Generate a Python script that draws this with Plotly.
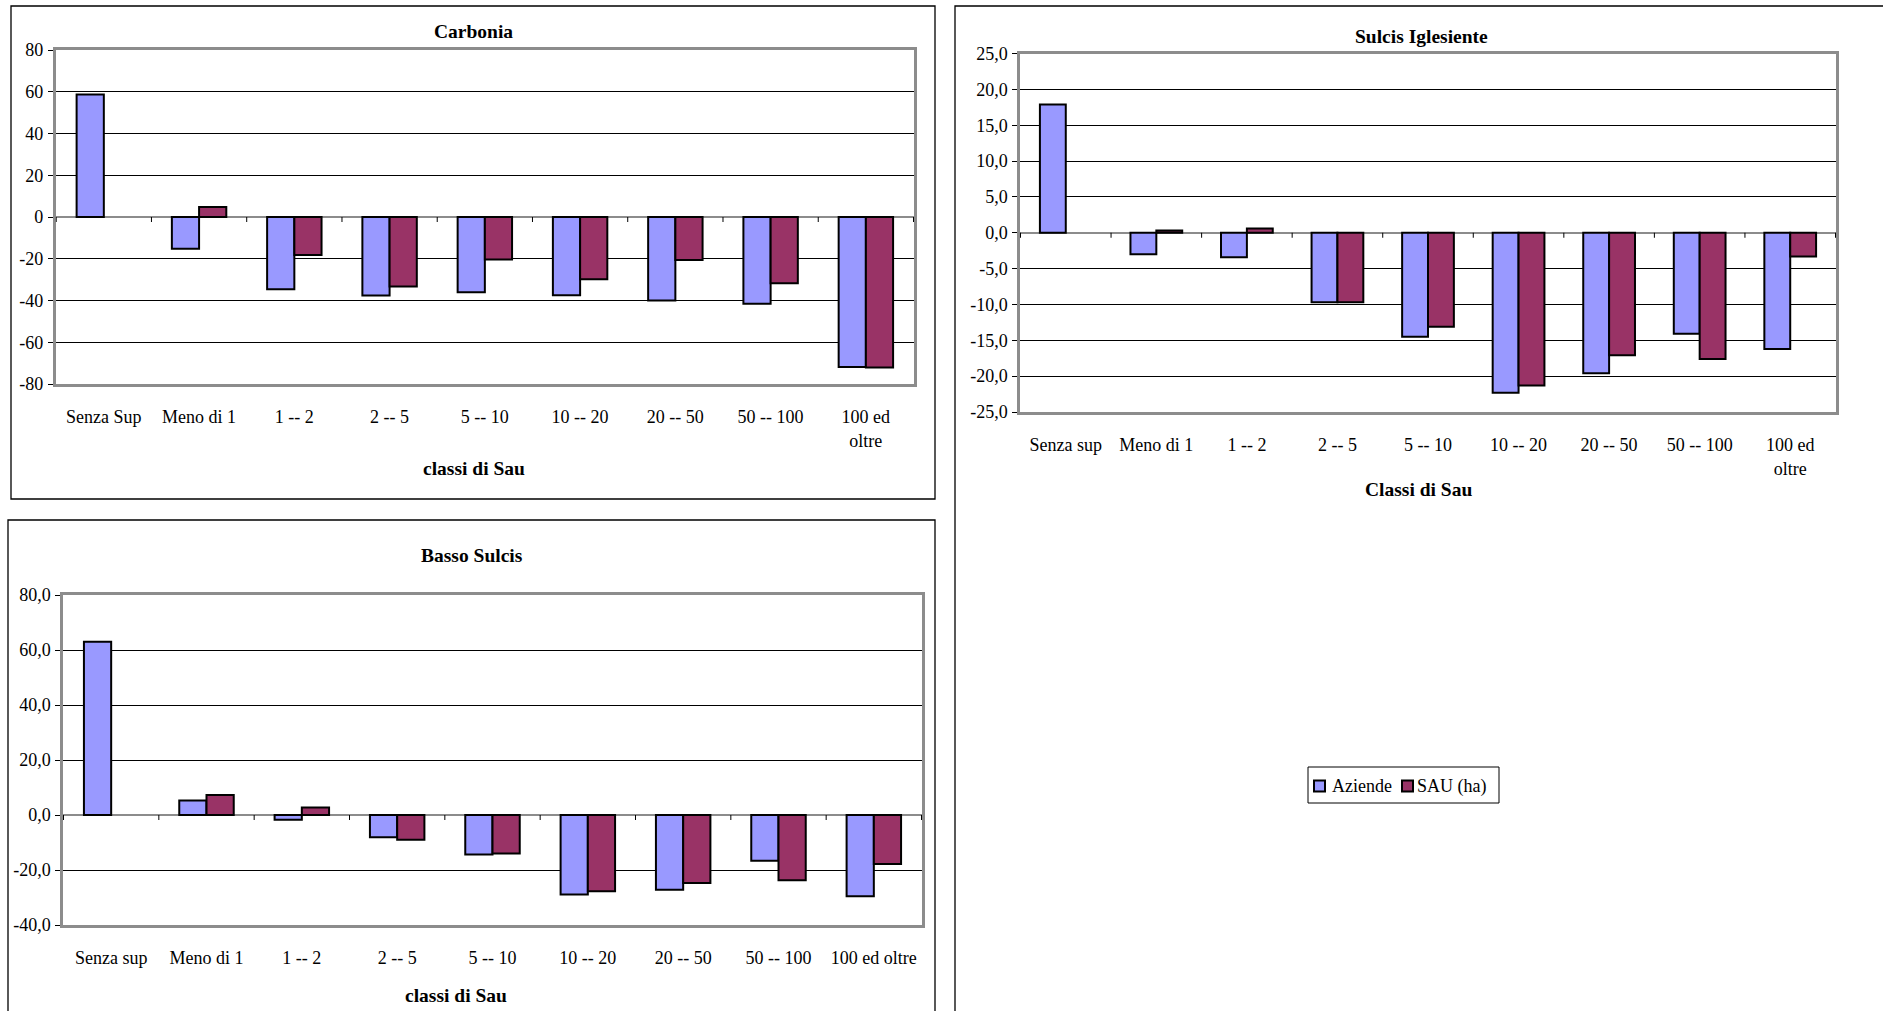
import plotly.graph_objects as go

# --- data -------------------------------------------------------------------
CLASSI = ["Senza sup", "Meno di 1", "1 -- 2", "2 -- 5", "5 -- 10",
          "10 -- 20", "20 -- 50", "50 -- 100", "100 ed oltre"]

CARBONIA_LABELS = ["Senza Sup", "Meno di 1", "1 -- 2", "2 -- 5", "5 -- 10",
                   "10 -- 20", "20 -- 50", "50 -- 100", "100 ed<br>oltre"]
SULCIS_LABELS = ["Senza sup", "Meno di 1", "1 -- 2", "2 -- 5", "5 -- 10",
                 "10 -- 20", "20 -- 50", "50 -- 100", "100 ed<br>oltre"]
BASSO_LABELS = ["Senza sup", "Meno di 1", "1 -- 2", "2 -- 5", "5 -- 10",
                "10 -- 20", "20 -- 50", "50 -- 100", "100 ed oltre"]

CARBONIA_AZIENDE = [58.7, -15.2, -34.6, -37.6, -36.0, -37.5, -40.0, -41.5, -71.8]
CARBONIA_SAU = [None, 4.8, -18.2, -33.3, -20.3, -29.8, -20.6, -31.7, -72.1]

SULCIS_AZIENDE = [17.9, -3.0, -3.4, -9.7, -14.5, -22.3, -19.6, -14.1, -16.2]
SULCIS_SAU = [None, 0.3, 0.6, -9.7, -13.1, -21.3, -17.1, -17.6, -3.3]

BASSO_AZIENDE = [63.0, 5.3, -1.7, -8.1, -14.4, -28.9, -27.2, -16.6, -29.5]
BASSO_SAU = [None, 7.3, 2.7, -9.0, -14.0, -27.7, -24.7, -23.7, -17.8]

CARBONIA_YTICKS = [-80, -60, -40, -20, 0, 20, 40, 60, 80]
SULCIS_YTICKS = [-25, -20, -15, -10, -5, 0, 5, 10, 15, 20, 25]
BASSO_YTICKS = [-40, -20, 0, 20, 40, 60, 80]

SERIES_NAMES = ["Aziende", "SAU (ha)"]

# --- styling ----------------------------------------------------------------
W, H = 1883, 1011
FONT = "Liberation Serif"
COL_AZ = "#9999FF"
COL_SAU = "#993366"
SERIES_COLORS = [COL_AZ, COL_SAU]
BORDER_GREY = "#8C8C8C"


def fx(px):
    return px / W


def fy(py):
    return 1 - py / H


def int_label(v):
    return str(v)


def dec_label(v):
    return f"{v:.1f}".replace(".", ",")


panels = [
    dict(suffix="", title="Carbonia", xtitle="classi di Sau",
         plot=(55.7, 50, 914, 384), frame=(11, 6, 935, 499),
         title_xy=(473, 31), xtitle_xy=(474, 468),
         az=CARBONIA_AZIENDE, sau=CARBONIA_SAU, labels=CARBONIA_LABELS,
         yticks=CARBONIA_YTICKS, fmt=int_label, yrange=(-80, 80)),
    dict(suffix="2", title="Sulcis Iglesiente", xtitle="Classi di Sau",
         plot=(1020, 53.5, 1836, 412), frame=(955, 6, 1888, 1016),
         title_xy=(1421, 36), xtitle_xy=(1418, 490),
         az=SULCIS_AZIENDE, sau=SULCIS_SAU, labels=SULCIS_LABELS,
         yticks=SULCIS_YTICKS, fmt=dec_label, yrange=(-25, 25)),
    dict(suffix="3", title="Basso Sulcis", xtitle="classi di Sau",
         plot=(63, 595, 922, 925), frame=(8, 520, 935, 1016),
         title_xy=(472, 555), xtitle_xy=(456, 995),
         az=BASSO_AZIENDE, sau=BASSO_SAU, labels=BASSO_LABELS,
         yticks=BASSO_YTICKS, fmt=dec_label, yrange=(-40, 80)),
]

fig = go.Figure()
shapes = []
annotations = []
layout_axes = {}

for i, p in enumerate(panels):
    xa = "x" + p["suffix"]
    ya = "y" + p["suffix"]
    for name, vals, col in ((SERIES_NAMES[0], p["az"], COL_AZ),
                            (SERIES_NAMES[1], p["sau"], COL_SAU)):
        fig.add_trace(go.Bar(
            x=CLASSI, y=vals, name=name, xaxis=xa, yaxis=ya,
            marker=dict(color=col, line=dict(color="black", width=2)),
            showlegend=False,
        ))

    x0, y0, x1, y1 = p["plot"]
    layout_axes["xaxis" + p["suffix"]] = dict(
        domain=[fx(x0), fx(x1)], anchor=ya,
        type="category", categoryorder="array", categoryarray=CLASSI,
        tickvals=CLASSI, ticktext=p["labels"],
        showline=True, mirror=True, linecolor=BORDER_GREY, linewidth=2.5,
        ticks="", showgrid=False, zeroline=False,
        ticklabelstandoff=15, automargin=False,
        tickfont=dict(family=FONT, size=18, color="black"),
        fixedrange=True,
    )
    layout_axes["yaxis" + p["suffix"]] = dict(
        domain=[fy(y1), fy(y0)], anchor=xa,
        range=list(p["yrange"]),
        tickvals=p["yticks"], ticktext=[p["fmt"](v) for v in p["yticks"]],
        showline=True, mirror=True, linecolor=BORDER_GREY, linewidth=2.5,
        ticks="outside", ticklen=5, tickwidth=1, tickcolor="black",
        ticklabelstandoff=1, automargin=False,
        showgrid=True, gridcolor="black", gridwidth=1,
        zeroline=True, zerolinecolor=BORDER_GREY, zerolinewidth=1.5,
        tickfont=dict(family=FONT, size=18, color="black"),
        fixedrange=True,
    )

    # category separator ticks hanging below the zero line
    for k in range(len(CLASSI) + 1):
        shapes.append(dict(
            type="line", xref=xa, yref=ya,
            x0=k - 0.5, x1=k - 0.5,
            ysizemode="pixel", yanchor=0, y0=0, y1=-5,
            line=dict(color="black", width=1),
        ))

    # outer chart frame
    fx0, fy0, fx1, fy1 = p["frame"]
    shapes.append(dict(
        type="rect", xref="paper", yref="paper",
        x0=fx(fx0), x1=fx(fx1), y0=fy(fy1), y1=fy(fy0),
        line=dict(color="black", width=1.3), fillcolor="rgba(0,0,0,0)",
        layer="below",
    ))

    annotations.append(dict(
        text="<b>" + p["title"] + "</b>", xref="paper", yref="paper",
        x=fx(p["title_xy"][0]), y=fy(p["title_xy"][1]),
        xanchor="center", yanchor="middle", showarrow=False,
        font=dict(family=FONT, size=19.5, color="black"),
    ))
    annotations.append(dict(
        text="<b>" + p["xtitle"] + "</b>", xref="paper", yref="paper",
        x=fx(p["xtitle_xy"][0]), y=fy(p["xtitle_xy"][1]),
        xanchor="center", yanchor="middle", showarrow=False,
        font=dict(family=FONT, size=19.5, color="black"),
    ))

# --- shared legend box (Aziende / SAU) -------------------------------------
LEG_BOX = (1308, 767, 1499, 803)
LEG_SWATCH_X = (1314, 1402)
LEG_TEXT_X = (1330, 1415)
LEG_MID_Y = 785
shapes.append(dict(
    type="rect", xref="paper", yref="paper",
    x0=fx(LEG_BOX[0]), x1=fx(LEG_BOX[2]),
    y0=fy(LEG_BOX[3]), y1=fy(LEG_BOX[1]),
    line=dict(color="black", width=1), fillcolor="white",
))
for name, col, sx, tx in zip(SERIES_NAMES, SERIES_COLORS, LEG_SWATCH_X, LEG_TEXT_X):
    shapes.append(dict(
        type="rect", xref="paper", yref="paper",
        x0=fx(sx), x1=fx(sx + 11), y0=fy(LEG_MID_Y + 6.5), y1=fy(LEG_MID_Y - 4.5),
        line=dict(color="black", width=2), fillcolor=col,
    ))
    annotations.append(dict(
        text=name, xref="paper", yref="paper",
        x=fx(tx), y=fy(LEG_MID_Y + 1), xanchor="left", yanchor="middle",
        showarrow=False, font=dict(family=FONT, size=18, color="black"),
    ))

fig.update_layout(
    width=W, height=H,
    margin=dict(l=0, r=0, t=0, b=0, pad=0, autoexpand=False),
    paper_bgcolor="white", plot_bgcolor="white",
    barmode="group", bargap=0.4286, bargroupgap=0,
    font=dict(family=FONT, size=18, color="black"),
    showlegend=False,
    shapes=shapes,
    annotations=annotations,
    **layout_axes,
)

fig.write_html("out.html")
